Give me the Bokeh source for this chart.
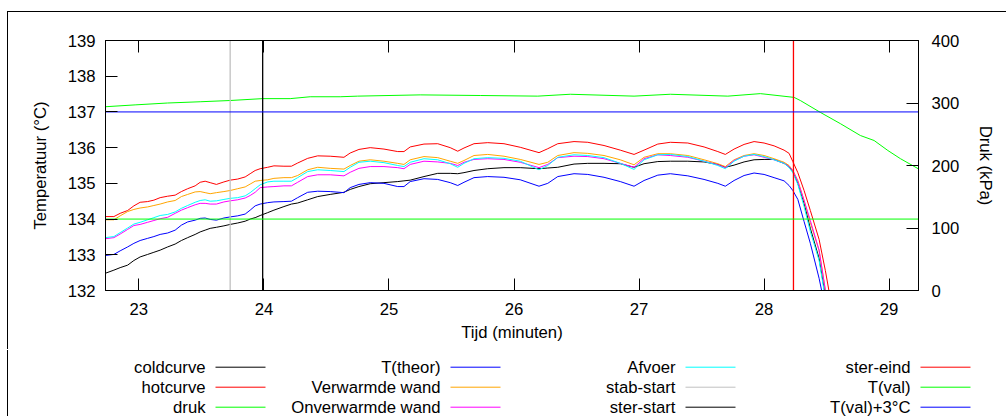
from bokeh.plotting import figure
from bokeh.models import Range1d, LinearAxis, FixedTicker, ColumnDataSource, InlineStyleSheet
from bokeh.layouts import column
from bokeh.core.properties import value
from bokeh.embed import file_html
from bokeh.resources import INLINE

NO_SCROLL_CSS = (":host, * { scrollbar-width: none !important; } "
                 "::-webkit-scrollbar { display: none !important; width: 0 !important; height: 0 !important; }")
try:
    from bokeh.models import GlobalInlineStyleSheet
    PAGE_CSS = [GlobalInlineStyleSheet(css="html, body { overflow: hidden !important; scrollbar-width: none !important; } "
                                           "::-webkit-scrollbar { display: none !important; }")]
except Exception:
    PAGE_CSS = []


def local_css():
    return [InlineStyleSheet(css=NO_SCROLL_CSS)]


FONT = "Liberation Sans"
FS = "16.7px"

# ---------------- data ----------------
time_min = [22.73, 22.80, 22.85, 22.91, 22.96, 23.01, 23.07, 23.12, 23.17, 23.23,
            23.29, 23.34, 23.39, 23.45, 23.49, 23.53, 23.57, 23.62, 23.68, 23.73,
            23.79, 23.85, 23.89, 23.93, 23.97, 24.03, 24.08, 24.16, 24.22, 24.27,
            24.35, 24.43, 24.53, 24.64, 24.69, 24.76, 24.85, 24.96, 25.07, 25.12,
            25.17, 25.28, 25.39, 25.49, 25.55, 25.60, 25.68, 25.79, 25.92, 26.05,
            26.20, 26.27, 26.35, 26.48, 26.59, 26.72, 26.85, 26.96, 27.04, 27.15,
            27.25, 27.39, 27.52, 27.63, 27.69, 27.76, 27.84, 27.92, 28.00, 28.08,
            28.16, 28.20, 28.23, 28.27, 28.32, 28.37, 28.44, 28.49, 28.52]

coldcurve = [132.48, 132.57, 132.64, 132.71, 132.84, 132.94, 133.01, 133.07, 133.13, 133.22,
             133.30, 133.40, 133.48, 133.57, 133.64, 133.69, 133.74, 133.77, 133.81, 133.85,
             133.89, 133.94, 134.00, 134.04, 134.10, 134.18, 134.25, 134.35, 134.42, 134.45,
             134.54, 134.63, 134.69, 134.75, 134.83, 134.91, 134.99, 135.02, 135.05, 135.07,
             135.09, 135.19, 135.28, 135.28, 135.27, 135.30, 135.36, 135.41, 135.44, 135.44,
             135.41, 135.43, 135.45, 135.54, 135.56, 135.56, 135.55, 135.45, 135.55, 135.61,
             135.62, 135.62, 135.60, 135.53, 135.45, 135.51, 135.60, 135.66, 135.67, 135.67,
             135.56, 135.47, 135.33, 135.00, 134.44, 133.74, 132.90, 131.86, 131.58]

hotcurve = [134.07, 134.07, 134.16, 134.24, 134.37, 134.47, 134.49, 134.53, 134.60, 134.64,
            134.67, 134.77, 134.85, 134.93, 135.03, 135.06, 135.02, 134.97, 135.04, 135.09,
            135.12, 135.18, 135.27, 135.36, 135.41, 135.45, 135.49, 135.48, 135.48, 135.57,
            135.70, 135.77, 135.76, 135.73, 135.85, 135.95, 136.00, 135.96, 135.89, 135.89,
            136.02, 136.10, 136.11, 136.00, 135.90, 135.99, 136.11, 136.14, 136.11, 136.01,
            135.86, 135.97, 136.11, 136.17, 136.15, 136.06, 135.93, 135.81, 135.93, 136.10,
            136.15, 136.13, 136.02, 135.89, 135.81, 135.96, 136.09, 136.17, 136.13, 136.05,
            135.93, 135.84, 135.61, 135.30, 134.80, 134.24, 133.43, 132.56, 131.97]

t_theor = [132.98, 133.01, 133.11, 133.22, 133.32, 133.40, 133.46, 133.51, 133.57, 133.61,
           133.69, 133.83, 133.92, 133.97, 134.02, 134.03, 133.99, 133.97, 134.03, 134.06,
           134.09, 134.14, 134.25, 134.37, 134.42, 134.46, 134.48, 134.49, 134.50, 134.60,
           134.75, 134.78, 134.77, 134.74, 134.88, 134.97, 135.02, 135.00, 134.91, 134.91,
           135.05, 135.13, 135.11, 135.02, 134.94, 135.03, 135.16, 135.19, 135.17, 135.10,
           134.92, 135.00, 135.19, 135.27, 135.25, 135.17, 135.05, 134.92, 135.08, 135.23,
           135.27, 135.21, 135.11, 135.00, 134.92, 135.08, 135.22, 135.29, 135.25, 135.16,
           135.07, 134.94, 134.80, 134.55, 133.93, 133.32, 132.34, 131.50, 131.20]

verwarmde_wand = [133.98, 133.98, 134.09, 134.21, 134.27, 134.31, 134.34, 134.38, 134.42, 134.48,
                  134.52, 134.63, 134.69, 134.76, 134.77, 134.74, 134.71, 134.74, 134.77, 134.80,
                  134.85, 134.90, 134.98, 135.06, 135.08, 135.10, 135.14, 135.16, 135.16, 135.22,
                  135.38, 135.45, 135.42, 135.40, 135.50, 135.62, 135.66, 135.62, 135.56, 135.53,
                  135.66, 135.75, 135.72, 135.62, 135.56, 135.64, 135.78, 135.81, 135.76, 135.67,
                  135.53, 135.59, 135.78, 135.86, 135.84, 135.78, 135.66, 135.52, 135.73, 135.83,
                  135.83, 135.78, 135.66, 135.55, 135.47, 135.66, 135.78, 135.83, 135.78, 135.69,
                  135.59, 135.50, 135.36, 135.08, 134.52, 133.90, 133.12, 132.02, 131.70]

onverwarmde_wand = [133.45, 133.48, 133.58, 133.71, 133.82, 133.85, 133.91, 133.96, 134.01, 134.05,
                    134.16, 134.25, 134.32, 134.40, 134.44, 134.44, 134.42, 134.42, 134.48, 134.51,
                    134.54, 134.59, 134.66, 134.75, 134.88, 134.90, 134.91, 134.93, 134.93, 135.03,
                    135.19, 135.24, 135.24, 135.21, 135.31, 135.42, 135.47, 135.47, 135.44, 135.41,
                    135.53, 135.62, 135.60, 135.56, 135.50, 135.59, 135.67, 135.69, 135.67, 135.59,
                    135.44, 135.53, 135.72, 135.76, 135.75, 135.69, 135.56, 135.45, 135.69, 135.80,
                    135.78, 135.73, 135.62, 135.52, 135.44, 135.64, 135.76, 135.80, 135.73, 135.66,
                    135.56, 135.47, 135.36, 135.05, 134.52, 133.96, 133.13, 132.00, 131.66]

afvoer = [133.48, 133.51, 133.62, 133.75, 133.86, 133.91, 133.98, 134.04, 134.10, 134.13,
          134.20, 134.30, 134.38, 134.47, 134.52, 134.54, 134.50, 134.51, 134.55, 134.58,
          134.60, 134.65, 134.74, 134.85, 134.96, 135.04, 135.06, 135.06, 135.06, 135.16,
          135.33, 135.38, 135.36, 135.33, 135.45, 135.59, 135.62, 135.58, 135.50, 135.47,
          135.59, 135.69, 135.66, 135.55, 135.45, 135.56, 135.69, 135.72, 135.70, 135.62,
          135.38, 135.50, 135.73, 135.80, 135.78, 135.72, 135.56, 135.39, 135.66, 135.80,
          135.81, 135.75, 135.62, 135.50, 135.41, 135.62, 135.76, 135.81, 135.75, 135.66,
          135.56, 135.44, 135.30, 134.97, 134.35, 133.65, 132.84, 131.78, 131.44]

druk_time = [22.73, 22.97, 23.23, 23.49, 23.73, 23.99, 24.21, 24.37, 24.61, 24.75,
             25.25, 25.73, 26.19, 26.45, 26.96, 27.25, 27.71, 27.97, 28.24, 28.29,
             28.45, 28.61, 28.77, 28.88, 28.99, 29.09, 29.24]
druk_kpa = [294, 297, 300, 302, 304, 307, 307, 310, 310, 311,
            313, 312, 311, 314, 311, 314, 311, 315, 309, 304,
            285, 267, 248, 240, 224, 211, 194]

stab_start = 23.73
ster_start = 23.99
ster_eind = 28.235
t_val = 134.0
t_val_plus3 = 137.0

x_limits = (22.733, 29.235)
temp_limits = (132, 139)
druk_limits = (0, 400)
x_ticks = [23, 24, 25, 26, 27, 28, 29]
temp_ticks = [132, 133, 134, 135, 136, 137, 138, 139]
druk_ticks = [0, 100, 200, 300, 400]

legend_labels = ["coldcurve", "hotcurve", "druk",
                 "T(theor)", "Verwarmde wand", "Onverwarmde wand",
                 "Afvoer", "stab-start", "ster-start",
                 "ster-eind", "T(val)", "T(val)+3°C"]
legend_colors = ["#000000", "#ff0000", "#00ff00",
                 "#0000ff", "#ffa500", "#ff00ff",
                 "#00ffff", "#c0c0c0", "#000000",
                 "#ff0000", "#00ff00", "#0000ff"]
C = dict(zip(legend_labels, legend_colors))

# ---------------- layout constants (pixels) ----------------
W = 1000
H_MAIN, H_LEG = 338, 66
BORDER_L, BORDER_R, BORDER_T, BORDER_B = 97, 90, 28, 60

# ---------------- main figure ----------------
p = figure(width=W, height=H_MAIN,
           x_range=Range1d(*x_limits), y_range=Range1d(*temp_limits),
           output_backend="svg", toolbar_location=None,
           min_border_left=BORDER_L, min_border_right=BORDER_R,
           min_border_top=BORDER_T, min_border_bottom=BORDER_B,
           background_fill_color="white", border_fill_color="white",
           outline_line_color="black", outline_line_width=1,
           stylesheets=local_css())
p.extra_y_ranges = {"druk": Range1d(*druk_limits)}
p.xgrid.visible = False
p.ygrid.visible = False


def style_axis(ax, standoff, label_standoff):
    ax.major_tick_in = 12
    ax.major_tick_out = 0
    ax.minor_tick_in = 0
    ax.minor_tick_out = 0
    ax.axis_line_color = "black"
    ax.major_tick_line_color = "black"
    ax.major_label_text_font = FONT
    ax.major_label_text_font_size = FS
    ax.major_label_text_color = "black"
    ax.axis_label_text_font = FONT
    ax.axis_label_text_font_size = FS
    ax.axis_label_text_font_style = "normal"
    ax.axis_label_text_color = "black"
    ax.major_label_standoff = standoff
    ax.axis_label_standoff = label_standoff


xa = p.xaxis[0]
xa.ticker = FixedTicker(ticks=x_ticks)
xa.axis_label = "Tijd (minuten)"
style_axis(xa, 12, 5)

ya = p.yaxis[0]
ya.ticker = FixedTicker(ticks=temp_ticks)
ya.axis_label = "Temperatuur (°C)"
style_axis(ya, 10, 15)

ra = LinearAxis(y_range_name="druk", ticker=FixedTicker(ticks=druk_ticks), axis_label="Druk (kPa)")
style_axis(ra, 13, 14)
p.add_layout(ra, "right")

ta = LinearAxis(ticker=FixedTicker(ticks=x_ticks))
style_axis(ta, 0, 0)
ta.major_label_text_color = None
p.add_layout(ta, "above")

src = ColumnDataSource(dict(t=time_min, cold=coldcurve, hot=hotcurve, theor=t_theor,
                            verw=verwarmde_wand, onverw=onverwarmde_wand, afv=afvoer))
dsrc = ColumnDataSource(dict(t=druk_time, p=druk_kpa))

p.line("t", "cold", source=src, line_color=C["coldcurve"], line_width=1)
p.line("t", "hot", source=src, line_color=C["hotcurve"], line_width=1)
p.line("t", "p", source=dsrc, y_range_name="druk", line_color=C["druk"], line_width=1)
p.line("t", "theor", source=src, line_color=C["T(theor)"], line_width=1)
p.line("t", "verw", source=src, line_color=C["Verwarmde wand"], line_width=1)
p.line("t", "onverw", source=src, line_color=C["Onverwarmde wand"], line_width=1)
p.line("t", "afv", source=src, line_color=C["Afvoer"], line_width=1)

# vertical markers (full height of the temperature axis) and horizontal limits
vsrc = ColumnDataSource(dict(x=[stab_start, ster_start, ster_eind],
                             y0=[temp_limits[0]] * 3, y1=[temp_limits[1]] * 3,
                             color=[C["stab-start"], C["ster-start"], C["ster-eind"]]))
p.segment("x", "y0", "x", "y1", source=vsrc, line_color="color", line_width=1.3)
hsrc = ColumnDataSource(dict(y=[t_val, t_val_plus3],
                             x0=[x_limits[0]] * 2, x1=[x_limits[1]] * 2,
                             color=[C["T(val)"], C["T(val)+3°C"]]))
p.segment("x0", "y", "x1", "y", source=hsrc, line_color="color", line_width=1)

# outer frame (top + left edges) drawn as a 1px shadow, which does not change sizes
main = column(p, stylesheets=PAGE_CSS + local_css(),
              styles={"margin-top": "12px", "margin-left": "8px",
                      "box-shadow": "-1px -1px 0 0 #000"})

# ---------------- legend (gnuplot style: right-aligned text, then sample) ----------------
leg = figure(width=W, height=H_LEG, x_range=Range1d(0, W), y_range=Range1d(H_LEG, 0),
             output_backend="svg", toolbar_location=None, min_border=0,
             x_axis_type=None, y_axis_type=None, outline_line_color=None,
             background_fill_color="white", border_fill_color="white",
             stylesheets=local_css())
COL_RIGHT0, COL_DX = 197, 235
ROW_Y0, ROW_DY = 16.7, 20
SAMPLE_GAP, SAMPLE_LEN = 10, 50
lx, ly, x0, x1 = [], [], [], []
for i in range(len(legend_labels)):
    c, r = divmod(i, 3)
    right = COL_RIGHT0 + c * COL_DX
    lx.append(right)
    ly.append(ROW_Y0 + r * ROW_DY)
    x0.append(right + SAMPLE_GAP)
    x1.append(right + SAMPLE_GAP + SAMPLE_LEN)
lsrc = ColumnDataSource(dict(x=lx, y=ly, x0=x0, x1=x1, label=legend_labels, color=legend_colors))
leg.text("x", "y", text="label", source=lsrc, text_align="right", text_baseline="middle",
         text_font=value(FONT), text_font_size=FS, text_color="black")
leg.segment("x0", "y", "x1", "y", source=lsrc, line_color="color", line_width=1)

legend_box = column(leg, stylesheets=local_css(),
                    styles={"margin-left": "8px", "box-shadow": "-1px 0 0 0 #000",
                            "margin-bottom": "-8px"})

open("out.html", "w").write(file_html([main, legend_box], INLINE))
